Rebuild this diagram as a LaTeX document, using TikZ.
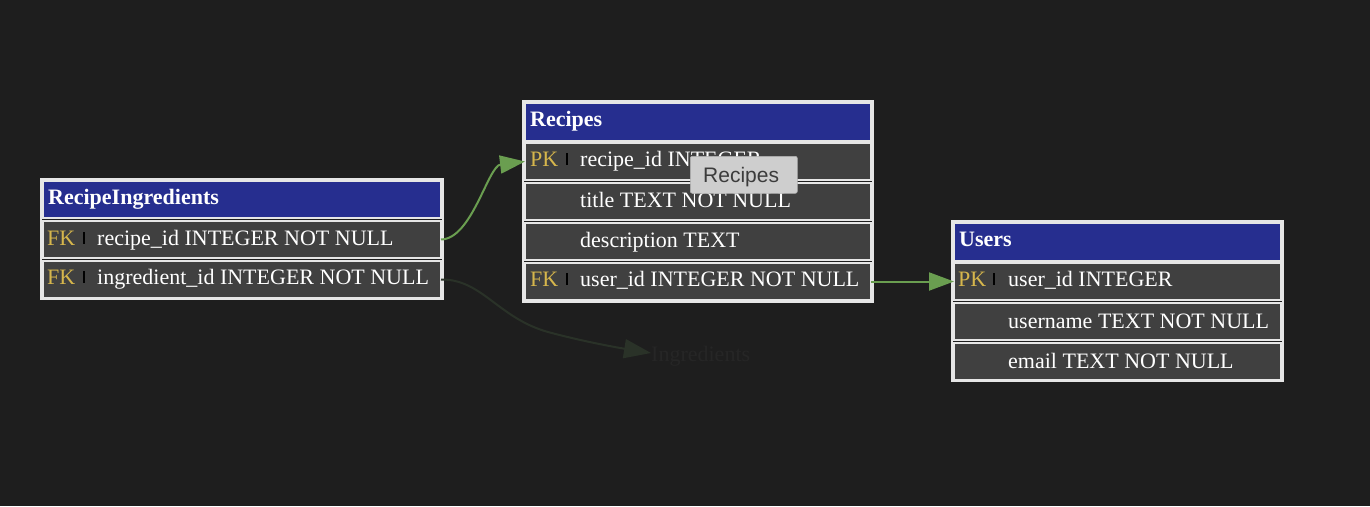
\documentclass[tikz,border=0pt]{standalone}
\usepackage{fontspec}
\setmainfont{Liberation Serif}
\newfontfamily\tipfont{Liberation Sans}
\usetikzlibrary{arrows.meta}
\definecolor{bgcol}{HTML}{1E1E1E}
\definecolor{headblue}{HTML}{262E8F}
\definecolor{rowgrey}{HTML}{404040}
\definecolor{cellborder}{HTML}{E6E6E6}
\definecolor{keyyellow}{HTML}{D6B64C}
\definecolor{linkgreen}{HTML}{6A9E50}
\definecolor{linkdark}{HTML}{2A3228}
\definecolor{ghosttext}{HTML}{262626}
\definecolor{tipfill}{HTML}{CECECE}
\definecolor{tiptext}{HTML}{3C3C3C}
\tikzset{
  cell/.style={draw=cellborder, line width=1.3pt, anchor=north west, inner sep=0pt, outer sep=0pt},
  headcell/.style={cell, fill=headblue},
  rowcell/.style={cell, fill=rowgrey},
  tableframe/.style={draw=cellborder, line width=1.3pt},
  headtext/.style={anchor=base west, inner sep=0pt, text=white, font=\bfseries\fontsize{22}{26}\selectfont},
  fieldtext/.style={anchor=base west, inner sep=0pt, text=white, font=\fontsize{22}{26}\selectfont},
  keytext/.style={anchor=base west, inner sep=0pt, text=keyyellow, font=\fontsize{22}{26}\selectfont},
  keybar/.style={draw=black, line width=2pt},
  greenlink/.style={draw=linkgreen, line width=2pt, -{Triangle[length=25pt,width=18pt]}},
  darklink/.style={draw=linkdark, line width=2pt, -{Triangle[length=27pt,width=19pt]}},
}
\begin{document}
\begin{tikzpicture}[x=1pt,y=-1pt]
\useasboundingbox (0,0) rectangle (1370,506);
\fill[bgcol] (0,0) rectangle (1370,506);

% ---------- RecipeIngredients ----------
\draw[tableframe] (41,179) rectangle (443,299);
\node[headcell, minimum width=398pt, minimum height=37pt] (rih) at (43,181) {};
\node[rowcell, minimum width=398pt, minimum height=37pt] (ri1) at (43,221) {};
\node[rowcell, minimum width=398pt, minimum height=37pt] (ri2) at (43,261) {};
\node[headtext] (rihT) at (48,204) {RecipeIngredients};
\node[keytext] (ri1K) at (47,245) {FK};
\draw[keybar] (84,232) -- (84,244);
\node[fieldtext] (ri1T) at (97,245) {recipe\_id INTEGER NOT NULL};
\node[keytext] (ri2K) at (47,284) {FK};
\draw[keybar] (84,271) -- (84,283);
\node[fieldtext] (ri2T) at (97,284) {ingredient\_id INTEGER NOT NULL};

% ---------- Recipes ----------
\draw[tableframe] (523,101) rectangle (873,302);
\node[headcell, minimum width=346pt, minimum height=38pt] (rph) at (525,103) {};
\node[rowcell, minimum width=346pt, minimum height=37pt] (rp1) at (525,143) {};
\node[rowcell, minimum width=346pt, minimum height=37pt] (rp2) at (525,183) {};
\node[rowcell, minimum width=346pt, minimum height=37pt] (rp3) at (525,223) {};
\node[rowcell, minimum width=346pt, minimum height=37pt] (rp4) at (525,263) {};
\node[headtext] (rphT) at (530,126) {Recipes};
\node[keytext] (rp1K) at (530,166) {PK};
\draw[keybar] (567,153) -- (567,165);
\node[fieldtext] (rp1T) at (580,166) {recipe\_id INTEGER};
\node[fieldtext] (rp2T) at (580,207) {title TEXT NOT NULL};
\node[fieldtext] (rp3T) at (580,247) {description TEXT};
\node[keytext] (rp4K) at (530,286) {FK};
\draw[keybar] (567,273) -- (567,285);
\node[fieldtext] (rp4T) at (580,286) {user\_id INTEGER NOT NULL};

% ---------- Users ----------
\draw[tableframe] (952,221) rectangle (1283,381);
\node[headcell, minimum width=327pt, minimum height=38pt] (ush) at (954,223) {};
\node[rowcell, minimum width=327pt, minimum height=37pt] (us1) at (954,263) {};
\node[rowcell, minimum width=327pt, minimum height=37pt] (us2) at (954,303) {};
\node[rowcell, minimum width=327pt, minimum height=37pt] (us3) at (954,343) {};
\node[headtext] (ushT) at (959,246) {Users};
\node[keytext] (us1K) at (958,286) {PK};
\draw[keybar] (994,273) -- (994,285);
\node[fieldtext] (us1T) at (1008,286) {user\_id INTEGER};
\node[fieldtext] (us2T) at (1008,328) {username TEXT NOT NULL};
\node[fieldtext] (us3T) at (1008,368) {email TEXT NOT NULL};

% ---------- faint target label ----------
\node[anchor=base west, inner sep=0pt, text=ghosttext, font=\fontsize{22}{26}\selectfont] (ingr) at (651,361) {Ingredients};
\coordinate (ingrIn) at (651,353);

% ---------- connectors ----------
\draw[greenlink] (ri1.east) .. controls (472,239) and (488,166) .. (rp1.west);
\draw[greenlink] (rp4.east) -- (us1.west);
\draw[darklink] (ri2.east) .. controls (482,279) and (498,318) .. (548,332)
                 .. controls (585,342) and (620,348) .. (ingrIn);

% ---------- tooltip ----------
\node[anchor=north west, fill=tipfill, draw=tipfill!85!black, line width=0.6pt, rounded corners=2pt,
      minimum width=107pt, minimum height=37pt, inner sep=0pt] (tip) at (690,156) {};
\node[anchor=base west, inner sep=0pt, text=tiptext, font=\tipfont\fontsize{21}{24}\selectfont] (tipT) at (703,182) {Recipes};
\end{tikzpicture}
\end{document}
